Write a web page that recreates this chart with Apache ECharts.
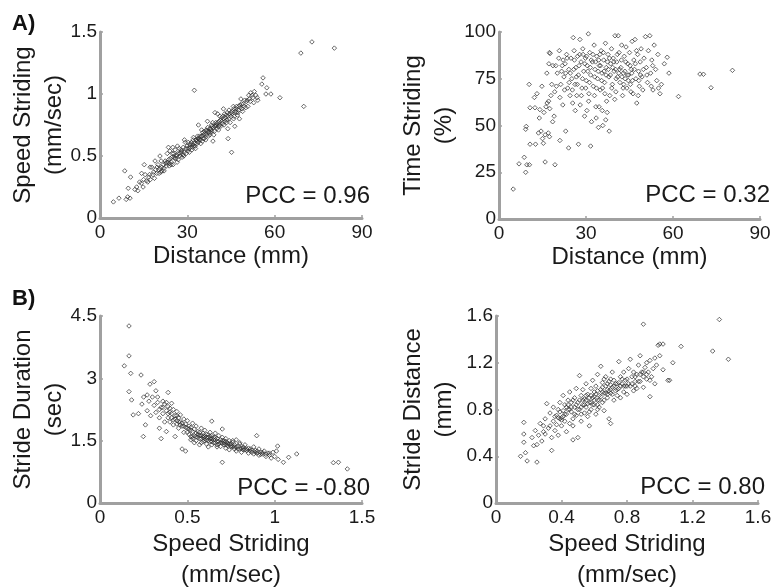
<!DOCTYPE html>
<html>
<head>
<meta charset="utf-8">
<script src="https://cdn.jsdelivr.net/npm/echarts@6/dist/echarts.min.js"></script>
<style>
  html, body { margin: 0; padding: 0; background: #fff; }
  #chart { width: 774px; height: 588px; }
</style>
</head>
<body>
<div id="chart"></div>
<script>
// panel A, left: distance (mm) vs speed striding (mm/sec)
var distSpeed = [
  [4.6,0.13],[6.5,0.16],[8.5,0.38],[9.0,0.15],[9.5,0.17],[10.3,0.16],[9.7,0.24],[10.5,0.33],[12.6,0.25],
  [12.0,0.23],[13.0,0.22],[13.6,0.29],[14.2,0.28],[14.8,0.25],[15.5,0.35],[16.0,0.30],[16.4,0.29],[17.0,0.35],
  [17.3,0.31],[17.8,0.41],[18.2,0.35],[18.7,0.32],[19.1,0.39],[19.5,0.36],[19.9,0.43],[20.3,0.36],[20.6,0.40],
  [21.0,0.46],[21.3,0.38],[21.7,0.43],[22.0,0.38],[22.4,0.46],[22.8,0.42],[23.1,0.52],[23.4,0.45],[23.8,0.42],
  [24.1,0.48],[24.5,0.45],[24.8,0.52],[25.1,0.43],[25.5,0.49],[25.8,0.55],[26.1,0.48],[26.5,0.45],[26.8,0.52],
  [27.2,0.56],[27.5,0.50],[27.9,0.53],[28.2,0.49],[28.6,0.57],[28.9,0.53],[29.3,0.61],[29.6,0.52],[30.0,0.56],
  [30.3,0.61],[30.7,0.53],[31.0,0.57],[31.4,0.61],[31.7,0.57],[32.1,0.65],[32.4,0.60],[32.8,0.56],[33.1,0.63],
  [33.5,0.66],[33.8,0.61],[34.2,0.66],[34.5,0.63],[34.9,0.71],[35.2,0.62],[35.6,0.67],[35.9,0.70],[36.3,0.63],
  [36.6,0.67],[37.0,0.73],[37.3,0.69],[37.7,0.67],[38.0,0.72],[38.4,0.70],[38.7,0.77],[39.1,0.67],[39.4,0.74],
  [39.8,0.77],[40.1,0.72],[40.5,0.77],[40.8,0.74],[41.2,0.82],[41.5,0.74],[41.9,0.78],[42.2,0.82],[42.6,0.75],
  [42.9,0.78],[43.3,0.83],[43.6,0.79],[44.0,0.82],[44.3,0.87],[44.7,0.77],[45.0,0.82],[45.4,0.86],[45.8,0.90],
  [46.1,0.82],[46.5,0.86],[46.9,0.90],[47.2,0.83],[47.6,0.87],[48.0,0.91],[48.4,0.96],[48.8,0.88],[49.2,0.92],
  [49.7,0.95],[50.1,0.89],[50.6,0.95],[51.1,0.99],[51.6,0.94],[52.2,0.99],[52.8,0.93],[53.5,0.99],[54.2,0.95],
  [26.9,0.47],[27.8,0.55],[28.8,0.50],[29.5,0.56],[30.2,0.54],[30.9,0.59],[31.6,0.55],[32.0,0.63],[32.7,0.58],
  [33.2,0.60],[33.9,0.64],[34.6,0.60],[35.3,0.69],[35.8,0.64],[36.5,0.71],[37.2,0.66],[37.9,0.69],[38.6,0.74],
  [39.3,0.70],[40.0,0.75],[40.7,0.71],[41.4,0.79],[42.1,0.76],[42.8,0.84],[43.5,0.77],[44.2,0.80],[45.1,0.85],
  [45.9,0.80],[46.7,0.88],[47.4,0.85],[48.2,0.89],[49.0,0.86],[23.6,0.47],[24.4,0.43],[25.3,0.52],[26.2,0.50],
  [22.6,0.44],[21.9,0.40],[20.9,0.37],[19.6,0.41],[43.9,0.72],[46.3,0.74],[38.8,0.62],[36.9,0.78],[29.0,0.63],
  [24.0,0.54],[40.4,0.84],[42.4,0.88],[47.9,0.80],[50.8,0.90],[14.3,0.36],[15.2,0.43],[17.2,0.41],[18.9,0.46],
  [20.6,0.50],[23.5,0.57],[25.0,0.57],[26.6,0.58],[33.8,0.75],[39.5,0.85],[44.0,0.64],
  [28.1,0.54],[28.5,0.51],[29.9,0.58],[30.6,0.56],[31.1,0.60],[31.8,0.59],[32.3,0.58],[32.9,0.63],[33.4,0.62],
  [33.7,0.64],[34.1,0.63],[34.8,0.66],[35.1,0.66],[35.5,0.64],[36.0,0.68],[36.7,0.70],[37.4,0.70],[37.6,0.72],
  [38.1,0.71],[38.3,0.75],[39.0,0.73],[39.7,0.74],[40.2,0.76],[40.9,0.78],[41.1,0.75],[41.8,0.81],[42.5,0.80],
  [43.0,0.81],[43.7,0.85],[44.4,0.84],[45.3,0.84],[46.0,0.88],[46.8,0.85],[47.7,0.90],[48.6,0.92],[49.5,0.90],
  [50.3,0.94],[51.3,0.96],[52.5,0.97],[27.4,0.52],[26.4,0.51],[25.7,0.48],[24.7,0.49],[23.9,0.44],[22.9,0.45],
  [21.2,0.41],[20.2,0.39],[18.4,0.37],[16.8,0.33],[15.0,0.31],
  [72.8,1.42],[69.0,1.33],[80.5,1.37],[70.0,0.90],[61.8,0.97],[32.4,1.03],[45.2,0.53],[56.0,1.13],
  [55.6,1.08],[57.3,1.05],[58.7,1.00],[57.0,1.00],[54.0,0.97],[53.0,1.02],[51.8,1.01]
];

// panel A, right: distance (mm) vs time striding (%)
var distTime = [
  [4.9,16],[6.9,29.5],[8.7,33],[9.2,25],[9.6,29],[10.5,29],[9.2,48],[9.4,49.5],[10.4,72],[10.7,40],[12.6,40],
  [10.7,59.5],[12.4,59.5],[12.2,65],[13.1,67],[13.6,46],[14.5,47],[15.0,43],[15.3,40.5],[15.9,45],[17.0,46],
  [17.4,44],[15.9,30.5],[19.3,29],[21.0,42],[24.0,38],[27.4,40],[31.6,39],[13.9,54],[14.1,58.5],[14.8,71],
  [15.5,57],[16.2,60],[16.6,62],[17.1,63],[17.5,59],[17.9,66],[18.2,72],[18.5,52],[19.0,55],[19.2,68],[19.8,71],
  [16.5,78],[17.2,83],[17.4,89],[17.6,88.5],[18.6,82],[19.6,82],[20.8,90],[20.6,86],[20.1,78],[21.0,65],[21.3,72],
  [21.6,79],[22.0,61],[22.4,76],[22.8,83],[23.0,47],[23.3,88],[23.7,70],[24.1,80],[24.5,66],[24.8,86],[25.1,75],
  [25.4,62],[25.6,97],[25.9,90],[26.2,72],[26.5,81],[26.8,66],[27.1,87],[27.4,77],[27.9,96],[28.0,61],[28.3,84],
  [28.6,70],[28.9,91],[29.2,79],[29.5,55],[29.8,86],[30.1,74],[30.4,82],[30.8,99],[31.0,67],[31.3,89],[31.6,77],
  [31.9,52],[32.2,84],[32.5,71],[32.8,93],[33.1,80],[33.4,60],[33.7,87],[34.0,75],[34.3,49],[34.6,82],[34.9,69],
  [35.2,90],[35.5,78],[35.8,50],[36.1,85],[36.4,73],[36.7,94],[37.0,81],[37.3,57],[37.6,88],[37.9,76],[38.2,66],
  [38.5,83],[38.8,91],[39.1,72],[39.4,86],[39.7,79],[40.0,98],[40.3,68],[40.6,84],[40.9,76],[41.1,98],[41.4,89],
  [41.7,73],[42.0,81],[42.3,93],[42.6,66],[42.9,78],[43.2,87],[43.5,75],[43.8,92],[44.1,70],[44.4,83],[44.7,77],
  [45.0,89],[45.3,72],[45.6,80],[45.9,95],[46.2,67],[46.5,85],[46.9,96],[47.2,75],[47.5,62],[47.8,88],[48.1,79],
  [48.4,71],[48.7,84],[49.0,91],[49.3,76],[49.6,69],[50.0,86],[50.5,97.5],[50.8,81],[51.2,73],[51.5,90],[52.0,98],
  [52.3,78],[52.7,85],[53.1,69],[53.5,93],[54.0,80],[54.4,74],[54.8,88],[55.5,67],[56.0,72],[57.0,83],[58.0,86.5],
  [58.6,78],[61.9,65.5],[69.3,77.5],[70.5,77.4],[73.1,70.2],[80.5,79.5],[52.5,71],[55.0,70],
  [26.0,85],[27.6,82],[29.0,88],[30.6,79],[31.8,85],[33.0,76],[34.4,85],[35.0,82],[36.2,79],[37.4,84],[38.4,77],
  [39.2,81],[40.4,75],[41.6,80],[42.4,76],[43.4,79],[44.6,74],[27.0,72],[29.9,70],[32.9,66],[35.7,70],[37.1,63],
  [24.2,73],[23.0,78],[22.1,85],[45.8,78],[47.0,83],[48.8,77],
  [21.8,82],[23.5,86],[24.6,78],[25.8,80],[26.7,76],[27.8,88],[28.8,75],[29.6,83],[30.2,87],[31.2,73],[31.5,81],
  [32.4,88],[33.3,84],[34.2,79],[34.8,88],[35.4,74],[36.0,89],[36.9,77],[37.7,80],[38.1,86],[38.9,70],[39.6,84],
  [40.2,80],[40.8,88],[41.3,78],[42.2,85],[43.0,72],[43.7,84],[44.3,77],[45.2,82],[46.0,74],[46.7,80],[47.4,90],
  [48.2,74],[49.8,80],[51.0,77],[53.0,82],[22.6,69],[25.3,69],[28.4,66],[30.9,63],[33.6,70],[36.5,67],[39.9,64],
  [42.8,70],[45.5,68],[48.0,66],[26.3,58],[30.3,58],[34.5,60],[36.8,53],[38.0,47],[33.5,54],[35.6,58]
];

// panel B, left: speed striding (mm/sec) vs stride duration (sec)
var speedDuration = [
  [0.166,4.26],[0.166,3.54],[0.139,3.30],[0.176,3.12],[0.166,2.68],[0.235,3.08],[0.181,2.48],[0.19,2.12],
  [0.248,1.60],[0.31,2.92],[0.286,2.86],[0.39,2.66],[0.70,0.98],[1.336,0.97],[1.365,0.98],[1.416,0.82],
  [1.126,1.18],[1.08,1.10],[1.05,0.98],[1.017,1.37],[0.897,1.62],[0.64,1.97],[0.70,1.78],
  [0.22,2.15],[0.24,2.38],[0.25,2.55],[0.26,1.88],[0.27,2.22],[0.27,2.60],[0.28,2.45],[0.29,2.10],[0.30,2.55],
  [0.31,2.35],[0.32,2.70],[0.32,2.18],[0.33,2.42],[0.34,2.05],[0.34,1.80],[0.35,2.30],[0.35,1.55],[0.36,2.45],
  [0.36,2.15],[0.37,1.95],[0.37,2.38],[0.38,2.22],[0.38,1.72],[0.39,2.05],[0.39,2.32],[0.40,2.18],[0.40,1.95],
  [0.41,2.40],[0.41,2.05],[0.42,1.88],[0.42,2.25],[0.43,2.10],[0.43,1.60],[0.44,1.98],[0.44,2.20],[0.45,2.05],
  [0.45,1.80],[0.46,1.95],[0.46,2.12],[0.47,1.85],[0.47,1.30],[0.48,2.02],[0.48,1.70],[0.49,1.90],[0.49,1.25],
  [0.50,1.80],[0.50,1.98],[0.51,1.65],[0.51,1.85],[0.52,1.75],[0.52,1.52],[0.53,1.92],[0.53,1.60],[0.54,1.78],
  [0.54,1.45],[0.55,1.68],[0.55,1.85],[0.56,1.58],[0.56,1.72],[0.57,1.62],[0.57,1.40],[0.58,1.80],[0.58,1.55],
  [0.59,1.68],[0.59,1.48],[0.60,1.60],[0.60,1.75],[0.61,1.52],[0.61,1.65],[0.62,1.58],[0.62,1.35],[0.63,1.70],
  [0.63,1.48],[0.64,1.55],[0.64,1.62],[0.65,1.45],[0.65,1.58],[0.66,1.52],[0.66,1.68],[0.67,1.40],[0.67,1.55],
  [0.68,1.48],[0.68,1.62],[0.69,1.36],[0.69,1.52],[0.70,1.45],[0.70,1.58],[0.71,1.40],[0.71,1.50],[0.72,1.55],
  [0.72,1.32],[0.73,1.45],[0.73,1.38],[0.74,1.50],[0.74,1.28],[0.75,1.42],[0.75,1.35],[0.76,1.46],[0.77,1.30],
  [0.77,1.40],[0.78,1.52],[0.78,1.25],[0.79,1.36],[0.80,1.30],[0.80,1.42],[0.81,1.22],[0.82,1.35],[0.82,1.28],
  [0.83,1.40],[0.84,1.26],[0.85,1.32],[0.85,1.20],[0.86,1.30],[0.87,1.22],[0.88,1.35],[0.88,1.18],[0.89,1.26],
  [0.90,1.20],[0.91,1.30],[0.91,1.15],[0.92,1.22],[0.93,1.18],[0.94,1.25],[0.95,1.12],[0.96,1.20],[0.97,1.15],
  [0.98,1.08],[0.99,1.22],[1.00,1.12],[1.01,1.25],[1.02,1.05],[0.53,1.55],[0.57,1.70],[0.60,1.50],[0.63,1.60],
  [0.66,1.45],[0.70,1.50],[0.74,1.42],[0.78,1.35],[0.82,1.32],[0.86,1.25],[0.46,1.88],[0.42,2.00],[0.40,2.28],
  [0.38,2.42],[0.44,1.90],[0.48,1.85],[0.52,1.82],[0.55,1.60],[0.59,1.62],[0.62,1.64],
  [0.41,2.15],[0.43,2.02],[0.45,1.95],[0.47,1.92],[0.49,1.82],[0.50,1.70],[0.51,1.78],[0.53,1.72],[0.54,1.62],
  [0.56,1.65],[0.57,1.55],[0.58,1.62],[0.59,1.58],[0.60,1.55],[0.61,1.58],[0.62,1.50],[0.63,1.54],[0.64,1.48],
  [0.65,1.52],[0.66,1.58],[0.67,1.48],[0.68,1.42],[0.69,1.45],[0.71,1.45],[0.72,1.40],[0.73,1.42],[0.75,1.38],
  [0.76,1.36],[0.77,1.35],[0.79,1.30],[0.81,1.32],[0.83,1.28],[0.84,1.30],[0.87,1.27],[0.89,1.22],[0.90,1.25],
  [0.92,1.17],[0.93,1.22],[0.95,1.17],[0.97,1.20],[0.52,1.60],[0.55,1.50],[0.58,1.45],[0.61,1.42],[0.64,1.40],
  [0.67,1.35],[0.72,1.48],[0.76,1.50],[0.80,1.45],[0.44,2.10],[0.39,2.15],[0.36,2.30],[0.34,2.25],[0.33,2.55]
];

// panel B, right: speed striding (mm/sec) vs stride distance (mm)
var speedStride = [
  [0.17,0.69],[0.17,0.59],[0.17,0.52],[0.15,0.40],[0.18,0.43],[0.19,0.36],[0.25,0.35],[0.23,0.49],[0.22,0.56],
  [0.24,0.62],[0.25,0.50],[0.26,0.58],[0.27,0.68],[0.28,0.53],[0.29,0.61],[0.30,0.59],[0.30,0.72],[0.31,0.85],
  [0.32,0.64],[0.33,0.77],[0.34,0.45],[0.34,0.56],[0.35,0.70],[0.35,0.82],[0.36,0.62],[0.37,0.75],[0.37,0.67],
  [0.38,0.80],[0.38,0.58],[0.39,0.72],[0.39,0.86],[0.40,0.73],[0.40,0.66],[0.41,0.79],[0.41,0.92],[0.42,0.70],
  [0.42,0.84],[0.43,0.61],[0.43,0.76],[0.44,0.88],[0.44,0.80],[0.45,0.68],[0.45,0.95],[0.46,0.78],[0.46,0.86],
  [0.47,0.54],[0.47,0.72],[0.48,0.90],[0.48,0.82],[0.49,0.75],[0.49,0.98],[0.50,0.56],[0.50,0.86],[0.51,1.09],
  [0.51,0.80],[0.52,0.92],[0.52,0.70],[0.53,0.84],[0.53,0.97],[0.54,0.77],[0.54,0.89],[0.55,0.82],[0.55,1.02],
  [0.56,0.74],[0.56,0.93],[0.57,0.86],[0.57,0.66],[0.58,0.98],[0.58,0.80],[0.59,0.90],[0.59,1.05],[0.60,0.84],
  [0.60,0.95],[0.61,0.76],[0.61,1.00],[0.62,0.88],[0.62,1.10],[0.63,0.92],[0.63,0.82],[0.64,1.17],[0.64,0.97],
  [0.65,0.86],[0.65,1.03],[0.66,0.94],[0.66,0.79],[0.67,1.00],[0.67,1.08],[0.68,0.90],[0.68,0.97],[0.69,0.72],
  [0.69,1.04],[0.70,0.68],[0.70,0.94],[0.71,1.12],[0.71,0.99],[0.72,0.88],[0.72,1.05],[0.73,0.96],[0.74,1.02],
  [0.74,0.92],[0.75,1.21],[0.75,0.98],[0.76,1.08],[0.76,0.90],[0.77,1.02],[0.78,0.95],[0.78,1.12],[0.79,1.00],
  [0.80,1.06],[0.80,0.93],[0.81,1.15],[0.82,1.23],[0.82,1.00],[0.83,1.08],[0.84,0.96],[0.84,1.12],[0.85,1.04],
  [0.86,1.10],[0.86,0.98],[0.87,1.18],[0.88,1.26],[0.88,1.04],[0.89,1.12],[0.90,1.08],[0.90,0.99],[0.91,1.16],
  [0.92,1.06],[0.92,1.20],[0.93,1.12],[0.94,0.91],[0.94,1.22],[0.95,1.08],[0.96,1.15],[0.97,1.02],[1.00,1.36],
  [1.02,1.36],[1.08,1.20],[1.05,1.05],[1.06,1.05],[1.364,1.57],[0.90,1.53],[1.419,1.23],[1.323,1.30],[1.13,1.34],
  [0.99,1.35],[0.97,1.24],[1.00,1.26],[1.02,1.14],[0.98,1.18],[0.55,0.88],[0.58,0.86],[0.60,0.91],[0.62,0.84],
  [0.65,0.95],[0.68,0.93],[0.70,1.01],[0.45,0.80],[0.48,0.76],[0.52,0.82],[0.40,0.71],[0.42,0.76],[0.38,0.73],
  [0.85,1.00],[0.80,1.00],[0.75,1.03],
  [0.44,0.84],[0.46,0.82],[0.47,0.88],[0.49,0.84],[0.50,0.80],[0.51,0.88],[0.53,0.88],[0.54,0.84],[0.55,0.92],
  [0.56,0.85],[0.57,0.90],[0.58,0.92],[0.59,0.84],[0.60,0.88],[0.61,0.93],[0.62,0.96],[0.63,0.88],[0.64,0.91],
  [0.65,0.99],[0.66,0.88],[0.67,0.94],[0.68,1.02],[0.69,0.96],[0.70,0.97],[0.71,0.93],[0.72,1.00],[0.73,1.02],
  [0.74,0.97],[0.76,1.00],[0.77,1.06],[0.78,1.00],[0.79,1.05],[0.81,1.02],[0.83,1.02],[0.85,1.08],[0.87,1.04],
  [0.88,1.10],[0.90,1.12],[0.92,1.10],[0.94,1.05],[0.36,0.74],[0.39,0.78],[0.41,0.74],[0.43,0.82],[0.47,0.66],
  [0.52,0.76],[0.57,0.78],[0.62,0.80],[0.66,1.06],[0.70,1.06],[0.33,0.66],[0.29,0.66]
];

var pccLabels = ['PCC = 0.96', 'PCC = 0.32', 'PCC = -0.80', 'PCC = 0.80'];
var xNames = ['Distance (mm)', 'Distance (mm)', 'Speed Striding\n(mm/sec)', 'Speed Striding\n(mm/sec)'];
var yNames = ['Speed Striding\n(mm/sec)', 'Time Striding\n(%)', 'Stride Duration\n(sec)', 'Stride Distance\n(mm)'];
var xRanges = [[0, 90, 30], [0, 90, 30], [0, 1.5, 0.5], [0, 1.6, 0.4]];
var yRanges = [[0, 1.5, 0.5], [0, 100, 25], [0, 4.5, 1.5], [0, 1.6, 0.4]];
var panelData = [distSpeed, distTime, speedDuration, speedStride];

var FONT = '"Liberation Sans", Arial, Helvetica, sans-serif';
var AXIS_GRAY = '#a0a0a0';

var grids = [
  {left: 100, top: 32, width: 262, height: 186},
  {left: 499, top: 32, width: 261, height: 187},
  {left: 100, top: 316, width: 262, height: 187},
  {left: 496, top: 316, width: 262, height: 187}
];
var yNameGaps = [30, 39, 30, 36];
var xNameGaps = [23, 23, 26, 26];

function makeAxis(i, isX) {
  var r = isX ? xRanges[i] : yRanges[i];
  return {
    type: 'value',
    gridIndex: i,
    min: r[0], max: r[1], interval: r[2],
    name: isX ? xNames[i] : yNames[i],
    nameLocation: 'middle',
    nameGap: isX ? xNameGaps[i] : yNameGaps[i],
    nameRotate: isX ? 0 : 90,
    nameMoveOverlap: false,
    nameTextStyle: {fontFamily: FONT, fontSize: 24, color: '#1a1a1a', lineHeight: 31},
    axisLine: {show: true, onZero: false, lineStyle: {color: AXIS_GRAY, width: 3}},
    axisTick: {show: true, inside: true, length: 3, lineStyle: {color: AXIS_GRAY, width: 1.5}},
    axisLabel: {fontFamily: FONT, fontSize: 19, color: '#1a1a1a', margin: isX ? 5 : 3},
    splitLine: {show: false}
  };
}

var xAxes = [], yAxes = [], series = [], graphics = [];
for (var i = 0; i < 4; i++) {
  grids[i].containLabel = false;
  grids[i].outerBoundsMode = 'none';
  xAxes.push(makeAxis(i, true));
  yAxes.push(makeAxis(i, false));
  series.push({
    type: 'scatter',
    xAxisIndex: i,
    yAxisIndex: i,
    symbol: 'diamond',
    symbolSize: 4.5,
    itemStyle: {color: 'rgba(255,255,255,0)', borderColor: '#2e2e2e', borderWidth: 0.8, opacity: 0.9},
    emphasis: {disabled: true},
    data: panelData[i]
  });
}

var pccPos = [[370, 196], [770, 195], [370, 488], [765, 487]];
for (var k = 0; k < 4; k++) {
  graphics.push({
    type: 'text', x: pccPos[k][0], y: pccPos[k][1],
    style: {text: pccLabels[k], font: '24px ' + FONT, fill: '#1a1a1a', textAlign: 'right', textVerticalAlign: 'middle'}
  });
}
graphics.push({type: 'text', x: 12, y: 13, style: {text: 'A)', font: 'bold 22px ' + FONT, fill: '#111'}});
graphics.push({type: 'text', x: 12, y: 288, style: {text: 'B)', font: 'bold 22px ' + FONT, fill: '#111'}});

var chart = echarts.init(document.getElementById('chart'), null, {renderer: 'canvas'});
chart.setOption({
  animation: false,
  backgroundColor: '#fff',
  grid: grids,
  xAxis: xAxes,
  yAxis: yAxes,
  series: series,
  graphic: graphics
});
</script>
</body>
</html>
